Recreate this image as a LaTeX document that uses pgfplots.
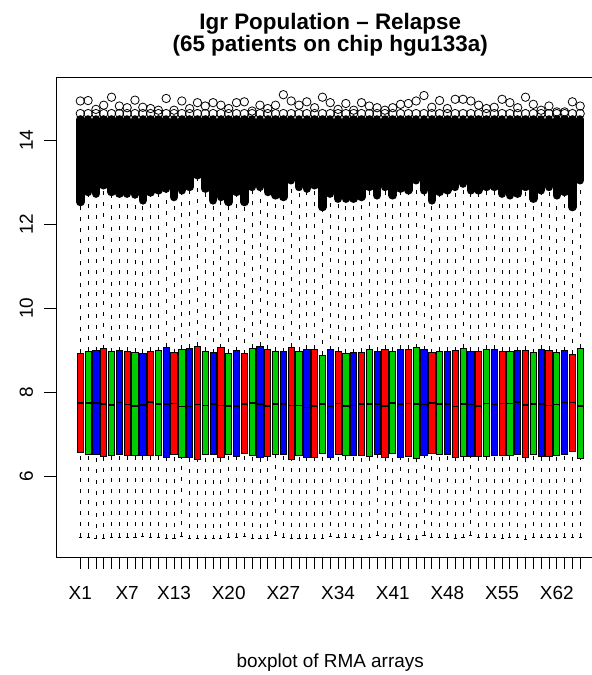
\documentclass[border=0pt]{standalone}
\usepackage{pgfplots}
\pgfplotsset{compat=1.18}
\usepgfplotslibrary{statistics}
\usepackage{fontspec}
\setmainfont{Liberation Sans}
\definecolor{rred}{HTML}{FF0000}
\definecolor{rgreen}{HTML}{00CD00}
\definecolor{rblue}{HTML}{0000FF}
% #1 position, #2 colour, #3 lower whisker, #4 Q1, #5 median, #6 Q3, #7 upper whisker
\newcommand{\bx}[7]{\addplot[boxplot prepared={draw position=#1, lower whisker=#3, lower quartile=#4, median=#5, upper quartile=#6, upper whisker=#7}, color=black, fill=#2, line width=0.8bp] coordinates {};}
\begin{document}
\begin{tikzpicture}
\begin{axis}[
  at={(0,0)}, anchor=south west,
  scale only axis, width=548.4bp, height=479.5bp,
  xmin=-2.11, xmax=68.1, ymin=4.067, ymax=15.5,
  axis line style={line width=0.9bp, black},
  tick align=outside, tick pos=left,
  major tick length=12bp,
  tick style={line width=0.8bp, black},
  xtick={1,...,65},
  xticklabels={X1,,,,,,X7,,,,,,X13,,,,,,,X20,,,,,,,X27,,,,,,,X34,,,,,,,X41,,,,,,,X48,,,,,,,X55,,,,,,,X62,,,},
  ytick={6,8,10,12,14},
  /pgf/number format/assume math mode=true,
  tick label style={font=\fontsize{19}{19}\selectfont},
  xticklabel style={anchor=base},
  xticklabel shift=30.5bp,
  yticklabel style={rotate=90, anchor=base},
  yticklabel shift=11bp,
  title={Igr Population – Relapse\\(65 patients on chip hgu133a)},
  title style={at={(0.5,1)}, anchor=south, inner sep=0pt, yshift=15bp, align=center, font=\bfseries\fontsize{22.5}{22}\selectfont},
  xlabel={boxplot of RMA arrays},
  xlabel style={at={(0.5,0)}, anchor=base, inner sep=0pt, yshift=-110bp, font=\fontsize{19}{19}\selectfont},
  boxplot/draw direction=y,
  boxplot/box extend=0.8, boxplot/whisker extend=0.4,
  boxplot/every median/.style={line width=1.6bp, black},
  boxplot/every whisker/.style={black},
  boxplot/draw/lower whisker/.code={%
    \path[draw=black, fill=none, line width=0.8bp, dash pattern=on 4bp off 7bp] (boxplot box cs:\pgfplotsboxplotvalue{lower whisker},0.5) -- (boxplot box cs:\pgfplotsboxplotvalue{lower quartile},0.5);
    \path[draw=black, fill=none, line width=0.8bp, solid] (boxplot whisker cs:\pgfplotsboxplotvalue{lower whisker},0) -- (boxplot whisker cs:\pgfplotsboxplotvalue{lower whisker},1);
  },
  boxplot/draw/upper whisker/.code={%
    \path[draw=black, fill=none, line width=0.8bp, dash pattern=on 4bp off 7bp] (boxplot box cs:\pgfplotsboxplotvalue{upper quartile},0.5) -- (boxplot box cs:\pgfplotsboxplotvalue{upper whisker},0.5);
    \path[draw=black, fill=none, line width=0.8bp, solid] (boxplot whisker cs:\pgfplotsboxplotvalue{upper whisker},0) -- (boxplot whisker cs:\pgfplotsboxplotvalue{upper whisker},1);
  },
]
\bx{1}{rred}{4.54}{6.56}{7.74}{8.92}{12.47}
\bx{2}{rgreen}{4.54}{6.51}{7.74}{8.98}{12.71}
\bx{3}{rblue}{4.50}{6.52}{7.74}{8.99}{12.67}
\bx{4}{rred}{4.52}{6.46}{7.71}{9.03}{12.87}
\bx{5}{rgreen}{4.54}{6.48}{7.69}{8.96}{12.71}
\bx{6}{rblue}{4.54}{6.52}{7.75}{8.99}{12.67}
\bx{7}{rred}{4.54}{6.48}{7.70}{8.97}{12.67}
\bx{8}{rgreen}{4.54}{6.48}{7.67}{8.95}{12.65}
\bx{9}{rblue}{4.55}{6.49}{7.69}{8.92}{12.51}
\bx{10}{rred}{4.54}{6.49}{7.76}{8.98}{12.70}
\bx{11}{rgreen}{4.54}{6.48}{7.71}{8.99}{12.75}
\bx{12}{rblue}{4.51}{6.44}{7.71}{9.07}{12.79}
\bx{13}{rred}{4.51}{6.51}{7.73}{8.94}{12.59}
\bx{14}{rgreen}{4.57}{6.44}{7.66}{9.02}{12.75}
\bx{15}{rblue}{4.50}{6.44}{7.66}{9.04}{12.83}
\bx{16}{rred}{4.50}{6.40}{7.70}{9.10}{13.11}
\bx{17}{rgreen}{4.50}{6.51}{7.68}{8.98}{12.79}
\bx{18}{rblue}{4.50}{6.52}{7.72}{8.94}{12.51}
\bx{19}{rred}{4.50}{6.44}{7.68}{9.06}{12.59}
\bx{20}{rgreen}{4.54}{6.51}{7.67}{8.92}{12.47}
\bx{21}{rblue}{4.54}{6.46}{7.67}{8.99}{12.71}
\bx{22}{rred}{4.55}{6.54}{7.71}{8.91}{12.47}
\bx{23}{rgreen}{4.51}{6.49}{7.74}{9.04}{12.83}
\bx{24}{rblue}{4.50}{6.45}{7.71}{9.09}{12.83}
\bx{25}{rred}{4.52}{6.47}{7.67}{9.02}{12.71}
\bx{26}{rgreen}{4.58}{6.51}{7.71}{8.98}{12.63}
\bx{27}{rblue}{4.54}{6.52}{7.71}{8.96}{12.59}
\bx{28}{rred}{4.52}{6.40}{7.68}{9.07}{12.99}
\bx{29}{rgreen}{4.51}{6.49}{7.68}{8.97}{12.83}
\bx{30}{rblue}{4.51}{6.43}{7.63}{9.02}{12.79}
\bx{31}{rred}{4.52}{6.44}{7.67}{9.02}{12.87}
\bx{32}{rgreen}{4.51}{6.54}{7.71}{8.88}{12.35}
\bx{33}{rblue}{4.55}{6.44}{7.66}{9.01}{12.67}
\bx{34}{rred}{4.53}{6.52}{7.73}{8.97}{12.55}
\bx{35}{rgreen}{4.54}{6.49}{7.67}{8.92}{12.55}
\bx{36}{rblue}{4.53}{6.50}{7.68}{8.94}{12.55}
\bx{37}{rred}{4.49}{6.50}{7.72}{8.95}{12.59}
\bx{38}{rgreen}{4.53}{6.46}{7.71}{9.02}{12.83}
\bx{39}{rblue}{4.58}{6.52}{7.71}{8.98}{12.63}
\bx{40}{rred}{4.53}{6.44}{7.67}{9.02}{12.83}
\bx{41}{rgreen}{4.49}{6.53}{7.74}{8.98}{12.63}
\bx{42}{rblue}{4.54}{6.44}{7.72}{9.02}{12.79}
\bx{43}{rred}{4.49}{6.47}{7.73}{9.02}{12.75}
\bx{44}{rgreen}{4.49}{6.42}{7.71}{9.06}{12.99}
\bx{45}{rblue}{4.58}{6.49}{7.70}{9.01}{12.75}
\bx{46}{rred}{4.54}{6.54}{7.74}{8.94}{12.51}
\bx{47}{rgreen}{4.53}{6.52}{7.71}{8.98}{12.71}
\bx{48}{rblue}{4.54}{6.51}{7.71}{8.98}{12.75}
\bx{49}{rred}{4.52}{6.44}{7.66}{8.99}{12.83}
\bx{50}{rgreen}{4.53}{6.46}{7.72}{9.05}{12.91}
\bx{51}{rblue}{4.58}{6.46}{7.70}{8.98}{12.75}
\bx{52}{rred}{4.53}{6.46}{7.67}{8.98}{12.75}
\bx{53}{rgreen}{4.54}{6.46}{7.73}{9.02}{12.83}
\bx{54}{rblue}{4.53}{6.48}{7.70}{9.02}{12.83}
\bx{55}{rred}{4.52}{6.49}{7.73}{8.98}{12.67}
\bx{56}{rgreen}{4.54}{6.50}{7.73}{8.97}{12.63}
\bx{57}{rblue}{4.53}{6.52}{7.76}{8.99}{12.67}
\bx{58}{rred}{4.49}{6.44}{7.69}{9.00}{12.83}
\bx{59}{rgreen}{4.54}{6.52}{7.71}{8.94}{12.55}
\bx{60}{rblue}{4.53}{6.47}{7.71}{9.02}{12.75}
\bx{61}{rred}{4.53}{6.46}{7.68}{9.00}{12.83}
\bx{62}{rgreen}{4.53}{6.49}{7.70}{8.94}{12.63}
\bx{63}{rblue}{4.54}{6.52}{7.75}{8.99}{12.71}
\bx{64}{rred}{4.53}{6.58}{7.75}{8.90}{12.35}
\bx{65}{rgreen}{4.54}{6.42}{7.67}{9.05}{12.99}
% dense outliers (lowest outlier to top of the dense band)
\addplot[black, line width=8.5bp, line cap=round, unbounded coords=jump] coordinates {
(1,12.53) (1,14.5) (1,nan) (2,12.77) (2,14.5) (2,nan) (3,12.73) (3,14.5) (3,nan)
(4,12.93) (4,14.5) (4,nan) (5,12.77) (5,14.5) (5,nan) (6,12.73) (6,14.5) (6,nan)
(7,12.73) (7,14.5) (7,nan) (8,12.71) (8,14.5) (8,nan) (9,12.57) (9,14.5) (9,nan)
(10,12.76) (10,14.5) (10,nan) (11,12.81) (11,14.5) (11,nan) (12,12.85) (12,14.5) (12,nan)
(13,12.65) (13,14.5) (13,nan) (14,12.81) (14,14.5) (14,nan) (15,12.89) (15,14.5) (15,nan)
(16,13.17) (16,14.5) (16,nan) (17,12.85) (17,14.5) (17,nan) (18,12.57) (18,14.5) (18,nan)
(19,12.65) (19,14.5) (19,nan) (20,12.53) (20,14.5) (20,nan) (21,12.77) (21,14.5) (21,nan)
(22,12.53) (22,14.5) (22,nan) (23,12.89) (23,14.5) (23,nan) (24,12.89) (24,14.5) (24,nan)
(25,12.77) (25,14.5) (25,nan) (26,12.69) (26,14.5) (26,nan) (27,12.65) (27,14.5) (27,nan)
(28,13.05) (28,14.5) (28,nan) (29,12.89) (29,14.5) (29,nan) (30,12.85) (30,14.5) (30,nan)
(31,12.93) (31,14.5) (31,nan) (32,12.41) (32,14.5) (32,nan) (33,12.73) (33,14.5) (33,nan)
(34,12.61) (34,14.5) (34,nan) (35,12.61) (35,14.5) (35,nan) (36,12.61) (36,14.5) (36,nan)
(37,12.65) (37,14.5) (37,nan) (38,12.89) (38,14.5) (38,nan) (39,12.69) (39,14.5) (39,nan)
(40,12.89) (40,14.5) (40,nan) (41,12.69) (41,14.5) (41,nan) (42,12.85) (42,14.5) (42,nan)
(43,12.81) (43,14.5) (43,nan) (44,13.05) (44,14.5) (44,nan) (45,12.81) (45,14.5) (45,nan)
(46,12.57) (46,14.5) (46,nan) (47,12.77) (47,14.5) (47,nan) (48,12.81) (48,14.5) (48,nan)
(49,12.89) (49,14.5) (49,nan) (50,12.97) (50,14.5) (50,nan) (51,12.81) (51,14.5) (51,nan)
(52,12.81) (52,14.5) (52,nan) (53,12.89) (53,14.5) (53,nan) (54,12.89) (54,14.5) (54,nan)
(55,12.73) (55,14.5) (55,nan) (56,12.69) (56,14.5) (56,nan) (57,12.73) (57,14.5) (57,nan)
(58,12.89) (58,14.5) (58,nan) (59,12.61) (59,14.5) (59,nan) (60,12.81) (60,14.5) (60,nan)
(61,12.89) (61,14.5) (61,nan) (62,12.69) (62,14.5) (62,nan) (63,12.77) (63,14.5) (63,nan)
(64,12.41) (64,14.5) (64,nan) (65,13.05) (65,14.5)
};
% sparse top outliers
\addplot[only marks, mark=o, mark size=4.2bp, mark options={line width=0.8bp, black}] coordinates {
(1,14.64) (1,14.94) (2,14.64) (2,14.95) (3,14.64) (3,14.74) (4,14.64) (4,14.84) (5,14.64) (5,15.03)
(6,14.64) (6,14.82) (7,14.64) (7,14.78) (8,14.64) (8,14.96) (9,14.64) (9,14.79) (10,14.64) (10,14.76)
(11,14.64) (11,14.72) (12,14.64) (12,15.00) (13,14.64) (13,14.72) (14,14.64) (14,14.94) (15,14.64) (15,14.76)
(16,14.64) (16,14.90) (17,14.64) (17,14.82) (18,14.64) (18,14.90) (19,14.64) (19,14.84) (20,14.64) (20,14.76)
(21,14.64) (21,14.90) (22,14.64) (22,14.92) (23,14.64) (23,14.70) (24,14.64) (24,14.84) (25,14.64) (25,14.76)
(26,14.64) (26,14.84) (27,14.64) (27,15.09) (28,14.64) (28,14.94) (29,14.64) (29,14.84) (30,14.64) (30,14.92)
(31,14.64) (31,14.78) (32,14.64) (32,15.03) (33,14.64) (33,14.90) (34,14.64) (34,14.74) (35,14.64) (35,14.88)
(36,14.64) (36,14.72) (37,14.64) (37,14.90) (38,14.64) (38,14.82) (39,14.64) (39,14.78) (40,14.64) (40,14.72)
(41,14.64) (41,14.78) (42,14.64) (42,14.86) (43,14.64) (43,14.88) (44,14.64) (44,14.94) (45,14.64) (45,15.07)
(46,14.64) (46,14.79) (47,14.64) (47,14.95) (48,14.64) (48,14.76) (49,14.64) (49,14.98) (50,14.64) (50,14.98)
(51,14.64) (51,14.94) (52,14.64) (52,14.84) (53,14.64) (53,14.76) (54,14.64) (54,14.79) (55,14.64) (55,14.98)
(56,14.64) (56,14.90) (57,14.64) (57,14.78) (58,14.64) (58,15.03) (59,14.64) (59,14.86) (60,14.64) (60,14.72)
(61,14.64) (61,14.82) (62,14.64) (62,14.68) (63,14.64) (63,14.68) (64,14.64) (64,14.92) (65,14.64) (65,14.82)
};
\end{axis}
\pgfresetboundingbox
\path[use as bounding box] (-56bp,-118bp) rectangle (536bp,557bp);
\end{tikzpicture}
\end{document}
